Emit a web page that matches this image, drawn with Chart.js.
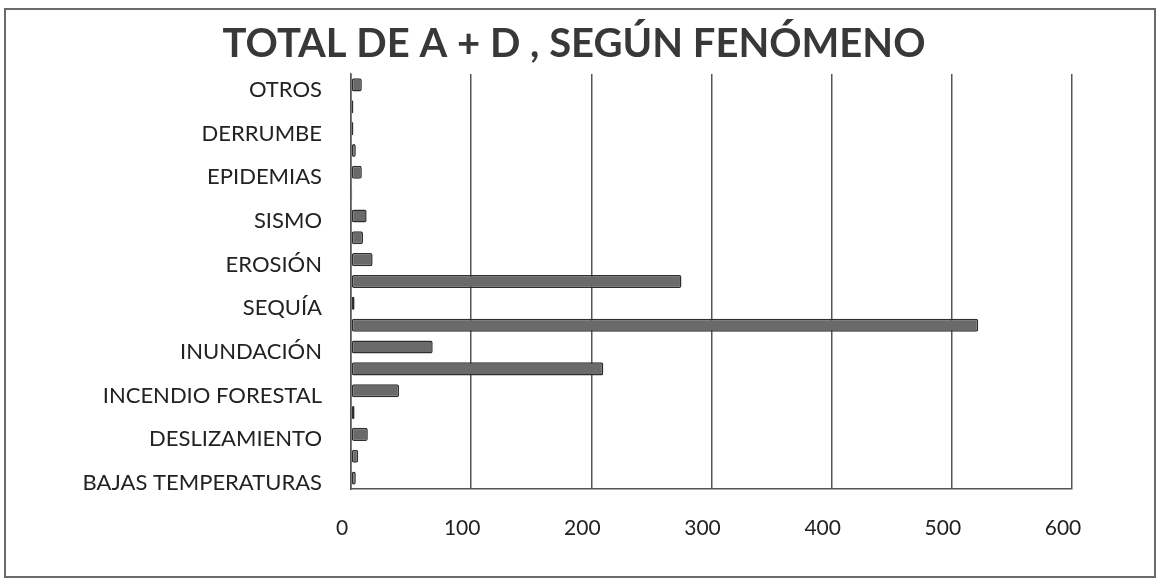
<!DOCTYPE html>
<html>
<head>
<meta charset="utf-8">
<script src="https://cdn.jsdelivr.net/npm/chart.js@4/dist/chart.umd.min.js"></script>
<style>
  html, body { margin:0; padding:0; background:#fff; }
  #wrap { position:relative; width:1161px; height:588px; }
  #frame { position:absolute; left:4px; top:8px; width:1152px; height:570px; border:2px solid #6a6a6a; box-sizing:border-box; pointer-events:none; }
</style>
</head>
<body>
<div id="wrap">
  <canvas id="fen-chart" width="1161" height="588"></canvas>
  <div id="frame"></div>
</div>
<script>
// categorias de arriba hacia abajo (solo se rotula una de cada dos, como en el original)
var categorias = [
  'OTROS', 'VENDAVAL', 'DERRUMBE', 'TORMENTA ELÉCTRICA', 'EPIDEMIAS', 'HURACÁN',
  'SISMO', 'GRANIZADA', 'EROSIÓN', 'SEQUÍA (DÉFICIT)', 'SEQUÍA', 'INUNDACIÓN LENTA',
  'INUNDACIÓN', 'AVENIDA TORRENCIAL', 'INCENDIO FORESTAL', 'HELADA', 'DESLIZAMIENTO',
  'EXPLOSIÓN', 'BAJAS TEMPERATURAS'
];
var totales = [9, 2, 2, 4, 9, 1, 13, 10, 18, 275, 3, 522, 68, 210, 40, 3, 14, 6, 4];
var ticksX = [0, 100, 200, 300, 400, 500, 600];

var ctx = document.getElementById('fen-chart').getContext('2d');
var fenChart = new Chart(ctx, {
  type: 'bar',
  data: {
    labels: categorias,
    datasets: [{
      label: 'Total A + D',
      data: totales,
      backgroundColor: '#6a6a6a',
      borderColor: '#2e2e2e',
      borderWidth: 1.5,
      borderRadius: 2,
      borderSkipped: false,
      barPercentage: 0.6,
      categoryPercentage: 1
    }]
  },
  options: {
    indexAxis: 'y',
    responsive: false,
    animation: false,
    layout: { padding: { left: 76, right: 89, top: 0, bottom: 10 } },
    plugins: {
      legend: { display: false },
      tooltip: { enabled: false },
      title: {
        display: true,
        text: 'TOTAL DE A + D , SEGÚN FENÓMENO',
        color: '#383838',
        font: { family: 'Lato', size: 40, weight: 'bold' },
        padding: { top: 20, bottom: 6 }
      }
    },
    scales: {
      x: {
        min: 0, max: 600,
        afterBuildTicks: function(axis) { axis.ticks = ticksX.map(function(v) { return { value: v }; }); },
        afterFit: function(axis) { axis.height = 89; },
        grid: { color: '#555', lineWidth: 1.5, drawTicks: false },
        border: { color: '#555', width: 1.5 },
        ticks: { color: '#222', padding: 27, labelOffset: -9, font: { family: 'Lato', size: 21 } }
      },
      y: {
        afterFit: function(axis) { axis.width = 275; },
        grid: { display: false, drawTicks: false },
        border: { color: '#555', width: 1.5 },
        ticks: {
          color: '#222', padding: 29, autoSkip: false, labelOffset: 5,
          font: { family: 'Lato', size: 22 },
          callback: function(v, i) { return i % 2 === 0 ? categorias[i] : ''; }
        }
      }
    }
  }
});
</script>
</body>
</html>
